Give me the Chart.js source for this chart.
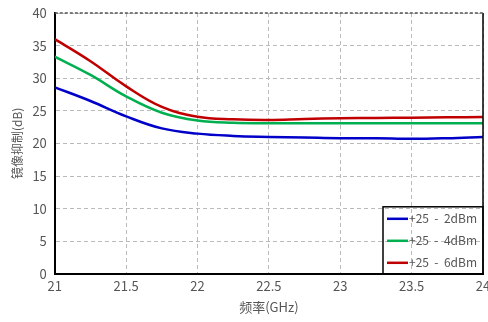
<!DOCTYPE html>
<html>
<head>
<meta charset="utf-8">
<script src="https://cdn.jsdelivr.net/npm/chart.js@4"></script>
<style>
  html, body { margin: 0; padding: 0; background: #fff; }
  #wrap { width: 488px; height: 322px; }
</style>
</head>
<body>
<div id="wrap"><canvas id="c" width="488" height="322"></canvas></div>
<script>
const freqs = [21, 21.25, 21.5, 21.75, 22, 22.25, 22.5, 22.75, 23, 23.25, 23.5, 23.75, 24]
const s2dBm = [28.6, 26.5, 24.15, 22.3, 21.5, 21.15, 21.0, 20.9, 20.8, 20.8, 20.7, 20.8, 21.0]
const s4dBm = [33.3, 30.5, 27.2, 24.7, 23.5, 23.15, 23.1, 23.1, 23.1, 23.1, 23.1, 23.1, 23.1]
const s6dBm = [36.0, 32.6, 28.75, 25.6, 24.1, 23.7, 23.6, 23.75, 23.85, 23.9, 23.95, 24.0, 24.05]
const seriesNames = ['+25 - 2dBm', '+25 - 4dBm', '+25 - 6dBm']
const seriesColors = ['#0000c8', '#00b050', '#c00000']

const font = '"Noto Sans CJK SC", "DejaVu Sans", sans-serif'

const toPoints = arr => arr.map((v, i) => ({ x: freqs[i], y: v }))

// legend box drawn inside the plot, bottom-right corner
const boxLegend = {
  id: 'boxLegend',
  afterDraw(chart) {
    const { ctx, chartArea } = chart
    const w = 100, h = 67
    const x0 = chartArea.right - w, y0 = chartArea.bottom - h
    ctx.save()
    ctx.strokeStyle = '#000'
    ctx.lineWidth = 1.5
    ctx.strokeRect(x0, y0, w, h)
    ctx.font = '12px ' + font
    ctx.textBaseline = 'middle'
    chart.data.datasets.forEach((ds, i) => {
      const y = y0 + 12 + i * 22
      ctx.strokeStyle = ds.borderColor
      ctx.lineWidth = 2.5
      ctx.beginPath()
      ctx.moveTo(x0 + 4, y)
      ctx.lineTo(x0 + 25, y)
      ctx.stroke()
      ctx.fillStyle = '#555'
      ctx.fillText(ds.label.replace(/ - /, '  -  '), x0 + 26, y)
    })
    // frame: right side solid, top dark dashed
    ctx.strokeStyle = '#000'
    ctx.lineWidth = 1.5
    ctx.beginPath()
    ctx.moveTo(chartArea.right, chartArea.top)
    ctx.lineTo(chartArea.right, chartArea.bottom)
    ctx.stroke()
    ctx.strokeStyle = '#555'
    ctx.setLineDash([3, 2])
    ctx.beginPath()
    ctx.moveTo(chartArea.left, chartArea.top)
    ctx.lineTo(chartArea.right, chartArea.top)
    ctx.stroke()
    ctx.restore()
  }
}

new Chart(document.getElementById('c'), {
  type: 'line',
  data: {
    datasets: [s2dBm, s4dBm, s6dBm].map((arr, i) => ({
      label: seriesNames[i],
      data: toPoints(arr),
      borderColor: seriesColors[i],
      backgroundColor: seriesColors[i],
      borderWidth: 2.5,
      pointRadius: 0,
      tension: 0.4,
      fill: false
    }))
  },
  options: {
    responsive: false,
    animation: false,
    layout: { padding: { top: 13, right: 5, left: 6, bottom: 3 } },
    plugins: {
      legend: { display: false },
      tooltip: { enabled: false }
    },
    scales: {
      x: {
        type: 'linear',
        min: 21,
        max: 24,
        afterFit(scale) { scale.paddingRight = 0 },
        ticks: {
          stepSize: 0.5,
          color: '#555',
          font: { family: font, size: 13 },
          padding: 4,
          callback: v => String(v)
        },
        grid: { color: '#bbb', drawTicks: false },
        border: { color: '#000', width: 2, dash: [4, 3] },
        title: { display: true, text: '频率(GHz)', color: '#555', font: { family: font, size: 13 }, padding: { top: 2 } }
      },
      y: {
        min: 0,
        max: 40,
        afterFit(scale) { scale.paddingTop = 0 },
        ticks: { stepSize: 5, color: '#555', font: { family: font, size: 13 }, padding: 8 },
        grid: { color: '#bbb', drawTicks: false },
        border: { color: '#000', width: 2, dash: [4, 3] },
        title: { display: true, text: '镜像抑制(dB)', color: '#555', font: { family: font, size: 12 }, padding: { bottom: 0 } }
      }
    }
  },
  plugins: [boxLegend]
})
</script>
</body>
</html>
